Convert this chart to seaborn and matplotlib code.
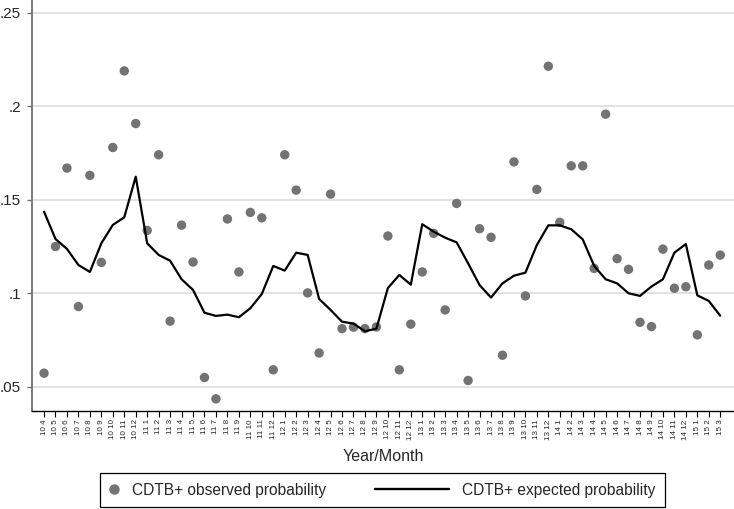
import matplotlib.pyplot as plt
import seaborn as sns
import pandas as pd
import numpy as np
from matplotlib.lines import Line2D
from matplotlib.legend_handler import HandlerLine2D

# months from 2010/4 to 2015/3
year_month = [f"{y} {m}" for y in range(10, 16) for m in range(1, 13)][3:63]

observed = [0.0573, 0.125, 0.1669, 0.0929, 0.163, 0.1165, 0.1779, 0.2188, 0.1907, 0.1336,
            0.174, 0.0851, 0.1364, 0.1167, 0.055, 0.0436, 0.1397, 0.1114, 0.1432, 0.1403,
            0.0591, 0.174, 0.1551, 0.1002, 0.0681, 0.153, 0.0811, 0.0819, 0.0811, 0.082,
            0.1306, 0.0591, 0.0835, 0.1114, 0.132, 0.0911, 0.148, 0.0534, 0.1345, 0.1299,
            0.0669, 0.1702, 0.0986, 0.1555, 0.2213, 0.1379, 0.1681, 0.1681, 0.1133, 0.1957,
            0.1185, 0.1128, 0.0845, 0.0822, 0.1236, 0.1027, 0.1035, 0.0778, 0.1151, 0.1204]

expected = [0.1436, 0.129, 0.1237, 0.1151, 0.1114, 0.1267, 0.1365, 0.1406, 0.1623, 0.1267,
            0.1205, 0.1174, 0.1075, 0.1018, 0.0896, 0.0879, 0.0886, 0.0872, 0.092, 0.0996,
            0.1146, 0.1121, 0.1217, 0.1205, 0.097, 0.0911, 0.0848, 0.0838, 0.0797, 0.0811,
            0.1028, 0.1098, 0.1046, 0.1369, 0.1329, 0.1297, 0.1272, 0.116, 0.1044, 0.0977,
            0.1053, 0.1094, 0.111, 0.1258, 0.1363, 0.1363, 0.1342, 0.1288, 0.1146, 0.1075,
            0.1053, 0.1, 0.0986, 0.1036, 0.1075, 0.1217, 0.1263, 0.0989, 0.0959, 0.088]

y_ticks = [0.05, 0.1, 0.15, 0.2, 0.25]
y_labels = ['.05', '.1', '.15', '.2', '.25']

df = pd.DataFrame({'month': np.arange(len(year_month)), 'observed': observed, 'expected': expected})

sns.set_theme(style="white")
plt.rcParams['font.family'] = ['Liberation Sans', 'DejaVu Sans']

fig = plt.figure(figsize=(7.34, 5.09), dpi=100)
ax = fig.add_axes([32/734, 1-411/509, 702/734, 411/509])

dot_color = '#737373'
sns.scatterplot(data=df, x='month', y='observed', ax=ax, color=dot_color, s=46, edgecolor='none', zorder=3)
sns.lineplot(data=df, x='month', y='expected', ax=ax, color='black', linewidth=1.6, zorder=4)

ax.set_xlim(-1.05, 60.2)
ax.set_ylim(0.0371, 0.2567)
ax.set_yticks(y_ticks)
ax.set_yticklabels(y_labels, fontsize=11)
ax.set_xticks(df['month'])
ax.set_xticklabels(year_month, rotation=90, fontsize=5.8, va='top')
ax.grid(axis='y', color='#dadada', linewidth=1.1)
ax.set_axisbelow(True)
ax.set_ylabel(None)
ax.set_xlabel('Year/Month', fontsize=11.5, labelpad=7)

for s in ['top', 'right']:
    ax.spines[s].set_visible(False)
ax.spines['left'].set_color('#707070')
ax.spines['left'].set_linewidth(1.3)
ax.spines['bottom'].set_color('black')
ax.spines['bottom'].set_linewidth(1.0)
ax.tick_params(axis='y', direction='out', length=3.6, width=1, color='#707070', pad=4.3, left=True)
ax.tick_params(axis='x', direction='out', length=4, width=0.8, color='black', pad=2, bottom=True)


# legend: marker sits at its box, line reaches left into the column gap
class LongLine(HandlerLine2D):
    def get_xdata(self, legend, xdescent, ydescent, width, height, fontsize):
        return [-xdescent + width - 53, -xdescent + width], [-xdescent + 0.5*width]


dot = Line2D([], [], marker='o', linestyle='none', color=dot_color, markersize=6.5)
line = Line2D([], [], color='black', linewidth=1.7)
leg = fig.legend([dot, line], ['CDTB+ observed probability', 'CDTB+ expected probability'],
                 loc='lower left', bbox_to_anchor=(100/734, 2/509), ncol=2, fontsize=11.2,
                 handlelength=0.6, handletextpad=0.85, columnspacing=7.3, borderpad=0.6,
                 borderaxespad=0, fancybox=False, edgecolor='black', framealpha=1,
                 handler_map={line: LongLine()})
leg.get_frame().set_linewidth(0.9)

plt.savefig('out.png', dpi=100)
